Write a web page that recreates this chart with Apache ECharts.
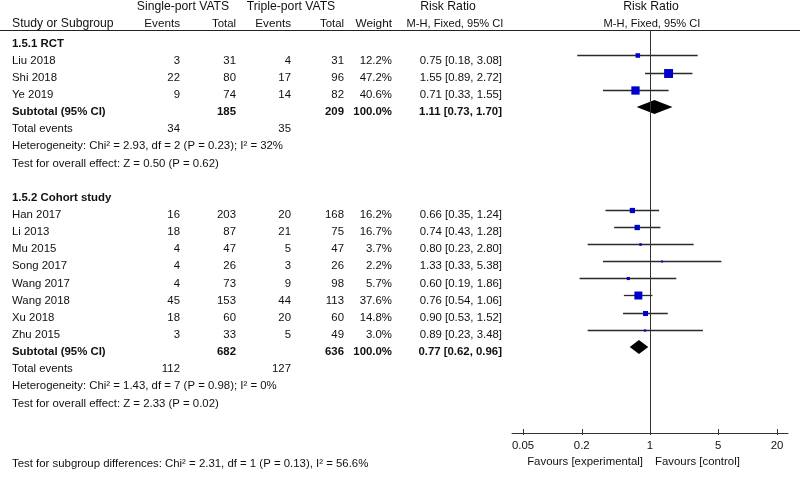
<!DOCTYPE html>
<html>
<head>
<meta charset="utf-8">
<script src="https://cdn.jsdelivr.net/npm/echarts@6.0.0/dist/echarts.min.js"></script>
<style>
html,body{margin:0;padding:0;background:#fff;}
#chart{width:800px;height:478px;}
</style>
</head>
<body>
<div id="chart"></div>
<script>
// ---------------- DATA ----------------
const rctTitle = '1.5.1 RCT';
const rctStudies = ['Liu 2018', 'Shi 2018', 'Ye 2019'];
const rctSingleEvents = [3, 22, 9];
const rctSingleTotal = [31, 80, 74];
const rctTripleEvents = [4, 17, 14];
const rctTripleTotal = [31, 96, 82];
const rctWeight = [12.2, 47.2, 40.6];
const rctRR = [0.75, 1.55, 0.71];
const rctLow = [0.18, 0.89, 0.33];
const rctHigh = [3.08, 2.72, 1.55];
const rctSubtotalTotals = [185, 209];
const rctSubtotalRR = [1.11, 0.73, 1.70];
const rctTotalEvents = [34, 35];
const rctHeterogeneity = 'Heterogeneity: Chi\u00b2 = 2.93, df = 2 (P = 0.23); I\u00b2 = 32%';
const rctOverall = 'Test for overall effect: Z = 0.50 (P = 0.62)';

const cohTitle = '1.5.2 Cohort study';
const cohStudies = ['Han 2017', 'Li 2013', 'Mu 2015', 'Song 2017', 'Wang 2017', 'Wang 2018', 'Xu 2018', 'Zhu 2015'];
const cohSingleEvents = [16, 18, 4, 4, 4, 45, 18, 3];
const cohSingleTotal = [203, 87, 47, 26, 73, 153, 60, 33];
const cohTripleEvents = [20, 21, 5, 3, 9, 44, 20, 5];
const cohTripleTotal = [168, 75, 47, 26, 98, 113, 60, 49];
const cohWeight = [16.2, 16.7, 3.7, 2.2, 5.7, 37.6, 14.8, 3.0];
const cohRR = [0.66, 0.74, 0.80, 1.33, 0.60, 0.76, 0.90, 0.89];
const cohLow = [0.35, 0.43, 0.23, 0.33, 0.19, 0.54, 0.53, 0.23];
const cohHigh = [1.24, 1.28, 2.80, 5.38, 1.86, 1.06, 1.52, 3.48];
const cohSubtotalTotals = [682, 636];
const cohSubtotalRR = [0.77, 0.62, 0.96];
const cohTotalEvents = [112, 127];
const cohHeterogeneity = 'Heterogeneity: Chi\u00b2 = 1.43, df = 7 (P = 0.98); I\u00b2 = 0%';
const cohOverall = 'Test for overall effect: Z = 2.33 (P = 0.02)';

const subgroupTest = 'Test for subgroup differences: Chi\u00b2 = 2.31, df = 1 (P = 0.13), I\u00b2 = 56.6%';
const tickValues = [0.05, 0.2, 1, 5, 20];
const tickLabels = ['0.05', '0.2', '1', '5', '20'];
const favoursLeft = 'Favours [experimental]';
const favoursRight = 'Favours [control]';

// ---------------- LAYOUT ----------------
const W = 800, H = 478;
const PITCH = 17.14, Y0 = 43.5;         // row pitch and pixel centre of row 0
const MARK_OFF = 0.3;                   // markers sit slightly above text rows
const FONT = '"Liberation Sans", Arial, sans-serif';
const FS = 11.4, FS_HEAD = 12.2;
const TXT = '#111';
const COL = { name: 12, sEv: 180, sTot: 236, tEv: 291, tTot: 344, w: 392, ci: 502 };
const FOREST = { left: 512, right: 788, top: 30, axisY: 433 };
const LOG_MIN = 0.0386, LOG_MAX = 25.9;

const items = [];
function add(x, row, text, align, bold, size) { items.push({ x, row, text: String(text), align: align || 'left', bold: !!bold, size: size || FS }); }
const fmtCI = (r, l, h) => r.toFixed(2) + ' [' + l.toFixed(2) + ', ' + h.toFixed(2) + ']';
const pixRow = (py) => (py - Y0) / PITCH;

// headers
add(183, pixRow(7), 'Single-port VATS', 'center', false, FS_HEAD);
add(291, pixRow(7), 'Triple-port VATS', 'center', false, FS_HEAD);
add(448, pixRow(7), 'Risk Ratio', 'center', false, FS_HEAD);
add(651, pixRow(7), 'Risk Ratio', 'center', false, FS_HEAD);
add(COL.name, pixRow(24), 'Study or Subgroup', 'left', false, FS_HEAD);
add(COL.sEv, pixRow(24), 'Events', 'right', false, 11.7);
add(COL.sTot, pixRow(24), 'Total', 'right');
add(COL.tEv, pixRow(24), 'Events', 'right', false, 11.7);
add(COL.tTot, pixRow(24), 'Total', 'right');
add(COL.w, pixRow(24), 'Weight', 'right', false, 11.8);
add(455, pixRow(24), 'M-H, Fixed, 95% CI', 'center', false, 11.1);
add(652, pixRow(24), 'M-H, Fixed, 95% CI', 'center', false, 11.1);

const studyPts = [];
const diamonds = [];
function section(start, title, names, sE, sT, tE, tT, w, rr, lo, hi, subTot, subRR, totEv, het, ov) {
  add(COL.name, start, title, 'left', true);
  names.forEach((n, i) => {
    const r = start + 1 + i;
    add(COL.name, r, n, 'left');
    add(COL.sEv, r, sE[i], 'right');
    add(COL.sTot, r, sT[i], 'right');
    add(COL.tEv, r, tE[i], 'right');
    add(COL.tTot, r, tT[i], 'right');
    add(COL.w, r, w[i].toFixed(1) + '%', 'right');
    add(COL.ci, r, fmtCI(rr[i], lo[i], hi[i]), 'right');
    studyPts.push([rr[i], lo[i], hi[i], r, w[i]]);
  });
  const s = start + 1 + names.length;
  add(COL.name, s, 'Subtotal (95% CI)', 'left', true);
  add(COL.sTot, s, subTot[0], 'right', true);
  add(COL.tTot, s, subTot[1], 'right', true);
  add(COL.w, s, '100.0%', 'right', true);
  add(COL.ci, s, fmtCI(subRR[0], subRR[1], subRR[2]), 'right', true);
  diamonds.push([subRR[0], subRR[1], subRR[2], s]);
  add(COL.name, s + 1, 'Total events', 'left');
  add(COL.sEv, s + 1, totEv[0], 'right');
  add(COL.tEv, s + 1, totEv[1], 'right');
  add(COL.name, s + 2, het, 'left');
  add(COL.name, s + 3, ov, 'left');
  return s + 3;
}
let last = section(0, rctTitle, rctStudies, rctSingleEvents, rctSingleTotal, rctTripleEvents, rctTripleTotal,
  rctWeight, rctRR, rctLow, rctHigh, rctSubtotalTotals, rctSubtotalRR, rctTotalEvents, rctHeterogeneity, rctOverall);
last = section(last + 2, cohTitle, cohStudies, cohSingleEvents, cohSingleTotal, cohTripleEvents, cohTripleTotal,
  cohWeight, cohRR, cohLow, cohHigh, cohSubtotalTotals, cohSubtotalRR, cohTotalEvents, cohHeterogeneity, cohOverall);

add(COL.name, pixRow(464), subgroupTest, 'left');
add(643, pixRow(462), favoursLeft, 'right');
add(655, pixRow(462), favoursRight, 'left');

// ---------------- CHART ----------------
const chart = echarts.init(document.getElementById('chart'), null, { renderer: 'canvas', width: W, height: H });

const logAxisBase = {
  type: 'log', logBase: 10, gridIndex: 1, min: LOG_MIN, max: LOG_MAX, position: 'bottom',
  splitLine: { show: false }, minorTick: { show: false }
};

const option = {
  animation: false,
  backgroundColor: '#ffffff',
  grid: [
    { left: 0, right: 0, top: 0, bottom: 0 },
    { left: FOREST.left, right: W - FOREST.right, top: FOREST.top, bottom: H - FOREST.axisY }
  ],
  xAxis: [
    { type: 'value', gridIndex: 0, min: 0, max: W, show: false },
    Object.assign({}, logAxisBase, {
      axisLine: { show: true, onZero: false, lineStyle: { color: '#333', width: 1 } },
      axisTick: { show: true, inside: true, length: 4, customValues: tickValues, lineStyle: { color: '#333' } },
      axisLabel: {
        show: true, customValues: tickValues, margin: 7, color: TXT, fontSize: FS, fontFamily: FONT,
        formatter: function (v) {
          let best = 0;
          tickValues.forEach((t, i) => { if (Math.abs(Math.log(t) - Math.log(v)) < Math.abs(Math.log(tickValues[best]) - Math.log(v))) best = i; });
          return tickLabels[best];
        }
      }
    }),
    Object.assign({}, logAxisBase, {
      axisLine: { show: false, onZero: false },
      axisTick: { show: true, inside: false, length: 2, customValues: tickValues, lineStyle: { color: '#333' } },
      axisLabel: { show: false }
    })
  ],
  yAxis: [
    { type: 'value', gridIndex: 0, inverse: true, min: -Y0 / PITCH, max: (H - Y0) / PITCH, show: false },
    { type: 'value', gridIndex: 1, inverse: true, min: (FOREST.top - Y0) / PITCH, max: (FOREST.axisY - Y0) / PITCH, show: false }
  ],
  graphic: [
    { type: 'line', shape: { x1: 0, y1: 30.5, x2: W, y2: 30.5 }, style: { stroke: '#222', lineWidth: 1 }, silent: true }
  ],
  series: [
    {
      type: 'custom', xAxisIndex: 0, yAxisIndex: 0, clip: false, silent: true,
      data: items.map(t => [t.x, t.row]),
      encode: { x: 0, y: 1 },
      renderItem: function (params, api) {
        const t = items[params.dataIndex];
        const p = api.coord([api.value(0), api.value(1)]);
        return {
          type: 'text', x: p[0], y: p[1],
          style: {
            text: t.text, fill: TXT, align: t.align, verticalAlign: 'middle',
            fontFamily: FONT, fontSize: t.size, fontWeight: t.bold ? 'bold' : 'normal'
          }
        };
      }
    },
    {
      type: 'custom', xAxisIndex: 1, yAxisIndex: 1, clip: false, silent: true,
      data: studyPts,
      encode: { x: [0, 1, 2], y: 3 },
      renderItem: function (params, api) {
        const y = api.value(3) - MARK_OFF;
        const pLo = api.coord([api.value(1), y]);
        const pHi = api.coord([api.value(2), y]);
        const pC = api.coord([api.value(0), y]);
        const s = Math.max(2, 1.3 * Math.sqrt(api.value(4)));
        const yy = Math.round(pC[1]) + 0.5;
        return {
          type: 'group', children: [
            { type: 'line', shape: { x1: pLo[0], y1: yy, x2: pHi[0], y2: yy }, style: { stroke: '#2a2a2a', lineWidth: 1.3 } },
            { type: 'rect', shape: { x: pC[0] - s / 2, y: yy - s / 2, width: s, height: s }, style: { fill: '#0000cc' } }
          ]
        };
      },
      markLine: {
        symbol: 'none', silent: true, label: { show: false },
        lineStyle: { color: '#333', width: 1, type: 'solid' },
        data: [{ xAxis: 1 }]
      }
    },
    {
      type: 'custom', xAxisIndex: 1, yAxisIndex: 1, clip: false, silent: true,
      data: diamonds,
      encode: { x: [0, 1, 2], y: 3 },
      renderItem: function (params, api) {
        const y = api.value(3) - MARK_OFF;
        const pLo = api.coord([api.value(1), y]);
        const pHi = api.coord([api.value(2), y]);
        const pC = api.coord([api.value(0), y]);
        const h = 7;
        return {
          type: 'polygon',
          shape: { points: [[pLo[0], pC[1]], [pC[0], pC[1] - h], [pHi[0], pC[1]], [pC[0], pC[1] + h]] },
          style: { fill: '#000' }
        };
      }
    }
  ]
};
chart.setOption(option);
</script>
</body>
</html>
